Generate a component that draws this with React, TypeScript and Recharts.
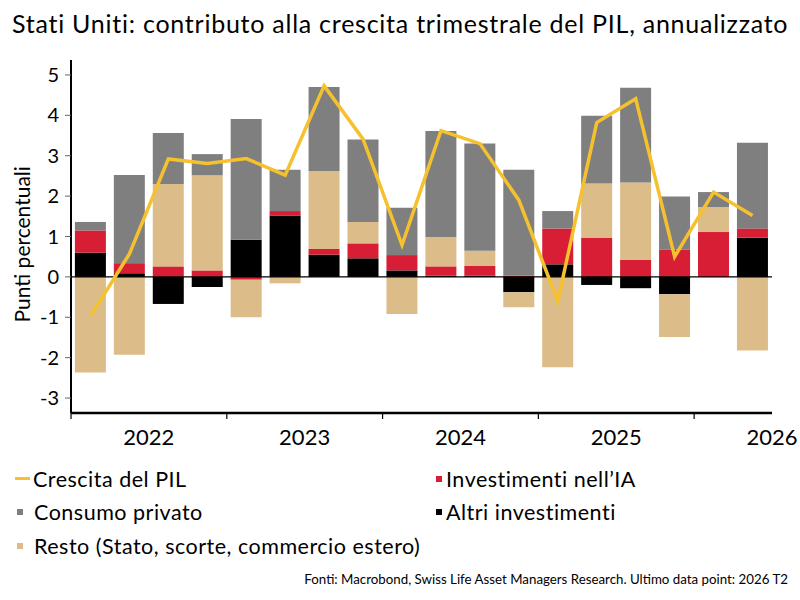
import {
  ComposedChart,
  Bar,
  Line,
  XAxis,
  YAxis,
  ReferenceLine,
} from "recharts";

// trimestri 2022 T1 .. 2026 T2
const quarters = [
  "2022 T1", "2022 T2", "2022 T3", "2022 T4",
  "2023 T1", "2023 T2", "2023 T3", "2023 T4",
  "2024 T1", "2024 T2", "2024 T3", "2024 T4",
  "2025 T1", "2025 T2", "2025 T3", "2025 T4",
  "2026 T1", "2026 T2",
];

const altriInvestimenti = [0.6, 0.09, -0.67, -0.25, 0.92, 1.52, 0.55, 0.46, 0.16, 0.03, 0.03, -0.38, 0.31, -0.2, -0.28, -0.43, 0, 0.97];
const investimentiIA = [0.55, 0.25, 0.26, 0.16, -0.07, 0.11, 0.14, 0.37, 0.38, 0.23, 0.24, 0.03, 0.89, 0.96, 0.42, 0.68, 1.11, 0.23];
const resto = [-2.37, -1.93, 2.04, 2.36, -0.93, -0.16, 1.93, 0.53, -0.92, 0.73, 0.38, -0.37, -2.24, 1.35, 1.92, -1.06, 0.62, -1.82];
const consumoPrivato = [0.21, 2.18, 1.26, 0.52, 2.99, 1.02, 2.08, 2.04, 1.17, 2.62, 2.65, 2.62, 0.43, 1.68, 2.34, 1.31, 0.37, 2.12];
const crescitaPIL = [-0.97, 0.57, 2.92, 2.81, 2.93, 2.52, 4.73, 3.41, 0.79, 3.62, 3.3, 1.9, -0.6, 3.82, 4.41, 0.5, 2.1, 1.52];

const yTicks = [-3, -2, -1, 0, 1, 2, 3, 4, 5];

const data = quarters.map((q, i) => ({
  q,
  altri: altriInvestimenti[i],
  ia: investimentiIA[i],
  resto: resto[i],
  consumo: consumoPrivato[i],
  pil: crescitaPIL[i],
}));

const FONT = "Lato, 'Open Sans', sans-serif";
const C_GRAY = "#7f7f7f";
const C_TAN = "#dcbd8a";
const C_RED = "#d81e34";
const C_BLACK = "#000000";
const C_YELLOW = "#f5c12e";

const HALF_BAND = 700 / 18 / 2;

function YearTick(props: any) {
  const { x, y, payload, index } = props;
  const year = String(payload.value).slice(0, 4);
  return (
    <g>
      {index % 4 === 0 && (
        <line x1={x - HALF_BAND} x2={x - HALF_BAND} y1={y} y2={y + 6} stroke="#000" strokeWidth={1.2} />
      )}
      {index % 4 === 1 && (
        <text x={x + HALF_BAND} y={y + 32} textAnchor="middle" fontSize={22} fill="#000" fontFamily={FONT}>
          {year}
        </text>
      )}
    </g>
  );
}

type ItemProps = { color: string; label: string; line?: boolean; padLeft: number; gap: number };

function LegendItem({ color, label, line, padLeft, gap }: ItemProps) {
  return (
    <div style={{ display: "flex", alignItems: "center", height: 33.5 }}>
      <span
        style={{
          display: "inline-block",
          width: line ? 15 : 6,
          height: line ? 3 : 6,
          background: color,
          marginLeft: padLeft,
          marginRight: gap,
        }}
      />
      <span>{label}</span>
    </div>
  );
}

export default function App() {
  return (
    <div style={{ position: "absolute", left: 0, top: 0, width: 800, height: 600, background: "#fff", fontFamily: FONT, color: "#000" }}>
      <div style={{ position: "absolute", left: 12, top: 8, fontSize: 25, letterSpacing: 0.75, whiteSpace: "nowrap" }}>
        Stati Uniti: contributo alla crescita trimestrale del PIL, annualizzato
      </div>

      <div style={{ position: "absolute", left: 0, top: 0 }}>
        <ComposedChart
          width={800}
          height={450}
          data={data}
          stackOffset="sign"
          barCategoryGap="10%"
          margin={{ top: 60, right: 28, bottom: 7, left: 0 }}
        >
          <XAxis
            dataKey="q"
            interval={0}
            height={30}
            tickSize={0}
            tickMargin={0}
            tick={<YearTick />}
            axisLine={{ stroke: "#000", strokeWidth: 2.5 }}
            tickLine={false}
          />
          <YAxis
            width={71}
            domain={[-3.37, 5.37]}
            ticks={yTicks}
            allowDataOverflow
            tickSize={6}
            tickMargin={6}
            tickLine={{ stroke: "#666", strokeWidth: 1 }}
            axisLine={{ stroke: "#000", strokeWidth: 2 }}
            tick={{ fontSize: 20, fill: "#000", fontFamily: FONT }}
            tickFormatter={(v: number) => String(v)}
            label={{
              value: "Punti percentuali",
              angle: -90,
              position: "insideLeft",
              dx: 18,
              dy: 86,
              style: { fontSize: 21, fill: "#000", fontFamily: FONT },
            }}
          />
          <Bar dataKey="altri" stackId="s" fill={C_BLACK} isAnimationActive={false} />
          <Bar dataKey="ia" stackId="s" fill={C_RED} isAnimationActive={false} />
          <Bar dataKey="resto" stackId="s" fill={C_TAN} isAnimationActive={false} />
          <Bar dataKey="consumo" stackId="s" fill={C_GRAY} isAnimationActive={false} />
          <ReferenceLine y={0} stroke="#000" strokeWidth={1.2} />
          <Line
            dataKey="pil"
            type="linear"
            stroke={C_YELLOW}
            strokeWidth={3.5}
            dot={false}
            activeDot={false}
            isAnimationActive={false}
          />
        </ComposedChart>
      </div>

      <div style={{ position: "absolute", left: 15, top: 462, fontSize: 21.5, letterSpacing: 0.5 }}>
        <LegendItem color={C_YELLOW} label="Crescita del PIL" line padLeft={0} gap={3} />
        <LegendItem color={C_GRAY} label="Consumo privato" padLeft={2} gap={11} />
        <LegendItem color={C_TAN} label="Resto (Stato, scorte, commercio estero)" padLeft={2} gap={11} />
      </div>
      <div style={{ position: "absolute", left: 436, top: 462, fontSize: 21.5, letterSpacing: 0.5 }}>
        <LegendItem color={C_RED} label="Investimenti nell’IA" padLeft={0} gap={4} />
        <LegendItem color={C_BLACK} label="Altri investimenti" padLeft={0} gap={4} />
      </div>

      <div style={{ position: "absolute", right: 12, top: 571, fontSize: 13.3, whiteSpace: "nowrap" }}>
        Fonti: Macrobond, Swiss Life Asset Managers Research. Ultimo data point: 2026 T2
      </div>
    </div>
  );
}
